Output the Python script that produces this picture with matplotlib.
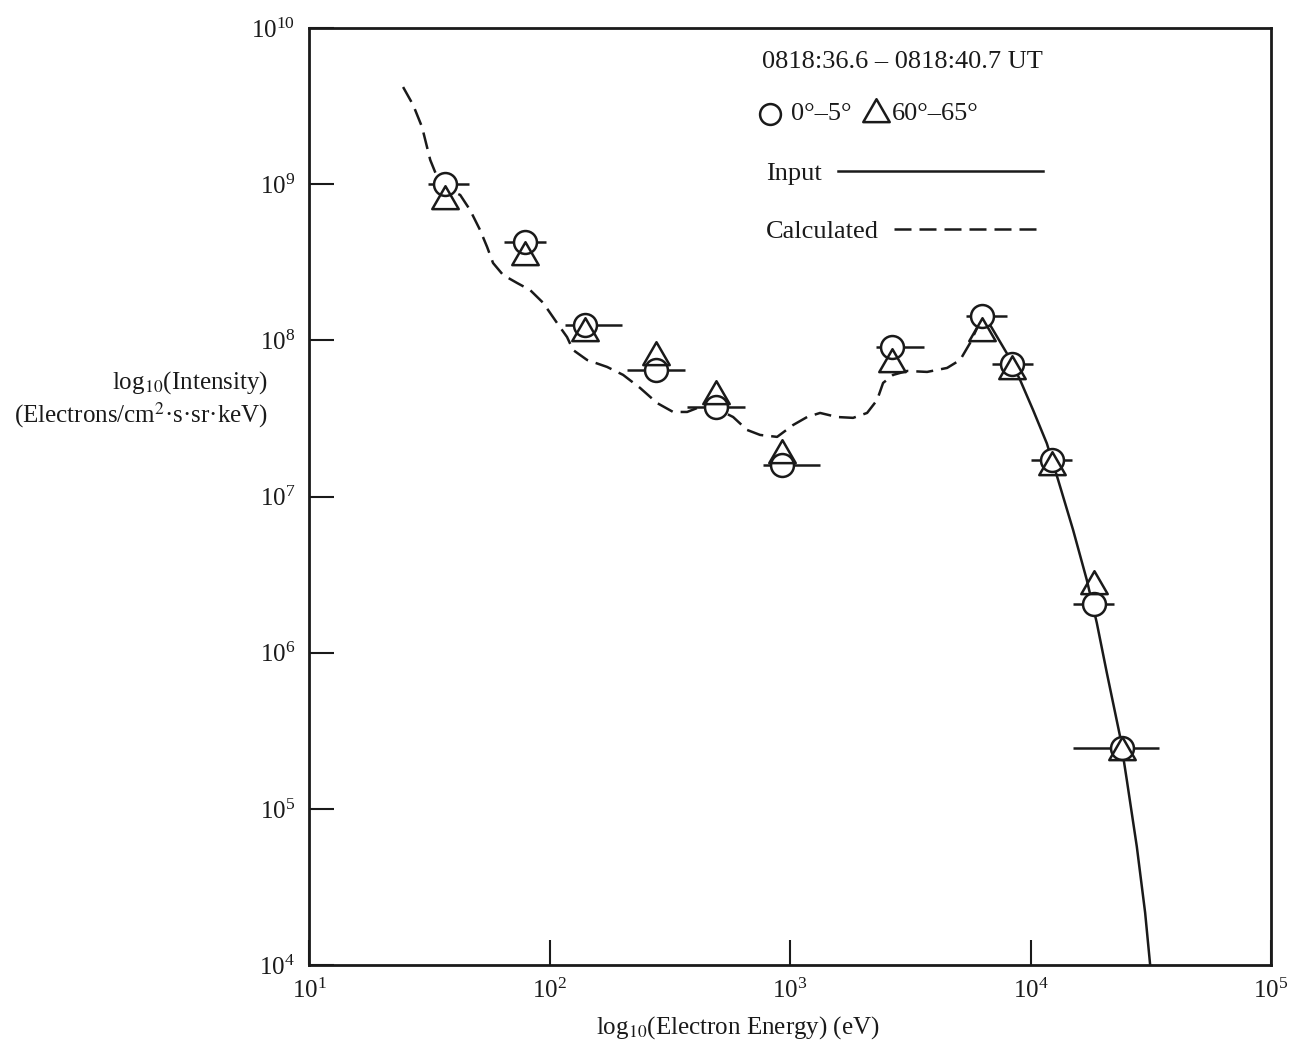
import numpy as np
import matplotlib
matplotlib.use("Agg")
import matplotlib.pyplot as plt
from matplotlib.path import Path

plt.rcParams['font.family'] = ['Liberation Serif', 'DejaVu Serif']
plt.rcParams['mathtext.fontset'] = 'stix'

# Channel energies (eV) and energy bin edges for the horizontal bars
energy = [36.8, 79.1, 140.5, 277.3, 492.5, 926, 2656, 6283, 8378, 12290, 18370, 24020]
energy_lo = [31.3, 64.7, 116, 210.6, 374, 770, 2278, 5393, 6898, 10050, 14980, 15070]
energy_hi = [46.2, 96.6, 199.5, 365.9, 650, 1332, 3607, 7962, 10210, 14830, 22310, 34120]

# Measured intensities, pitch angle 0-5 deg (circles) and 60-65 deg (triangles)
flux_0_5 = [1.01e9, 4.29e8, 1.26e8, 6.47e7, 3.77e7, 1.59e7, 9.12e7, 1.44e8, 7.06e7, 1.71e7, 2.04e6, 2.45e5]
flux_60_65 = [7.77e8, 3.43e8, 1.11e8, 7.87e7, 4.43e7, 1.85e7, 7.08e7, 1.11e8, 6.34e7, 1.55e7, 2.67e6, 2.32e5]

# Input spectrum (solid)
input_e = [6344, 6785, 7963, 9043, 10240, 11680, 13015, 15020, 17130, 18850, 20750, 23560,
           25120, 27640, 29940, 31410]
input_i = [1.39e8, 1.255e8, 8.27e7, 5.58e7, 3.58e7, 2.19e7, 1.277e7, 6.11e6, 2.92e6, 1.55e6,
           7.42e5, 2.90e5, 1.53e5, 5.74e4, 2.16e4, 1.0e4]

# Calculated spectrum (dashed)
calc_e = [24.6, 27.1, 29.5, 31.9, 33.4, 36.1, 42.5, 46.7, 51.4, 55.0, 58.2, 64.1, 73.3, 83.0, 94.0,
          107.5, 118.2, 125.2, 143.2, 173.4, 202.2, 237.8, 279.9, 326.3, 373.2, 422.6, 478.6, 579.6,
          662.5, 750.4, 883.1, 1029, 1177, 1333, 1568, 1828, 2090, 2300, 2436, 2681, 3066, 3713,
          4496, 5093, 5603, 5991, 6344]
calc_i = [4.19e9, 3.21e9, 2.32e9, 1.43e9, 1.20e9, 9.60e8, 8.53e8, 6.84e8, 5.09e8, 3.96e8, 3.13e8,
          2.62e8, 2.33e8, 2.10e8, 1.74e8, 1.29e8, 1.05e8, 8.68e7, 7.49e7, 6.76e7, 6.01e7, 4.96e7,
          3.97e7, 3.48e7, 3.48e7, 3.75e7, 3.75e7, 3.23e7, 2.67e7, 2.48e7, 2.41e7, 2.87e7, 3.23e7,
          3.43e7, 3.23e7, 3.19e7, 3.43e7, 4.15e7, 5.34e7, 6.01e7, 6.37e7, 6.28e7, 6.66e7, 7.49e7,
          9.62e7, 1.20e8, 1.39e8]

# equilateral triangle centred on its centroid
tri = Path([(-0.866, -0.5), (0.866, -0.5), (0, 1.0), (-0.866, -0.5)],
           [Path.MOVETO, Path.LINETO, Path.LINETO, Path.CLOSEPOLY])

lw = 1.8
ink = '#1a1a1a'
fig = plt.figure(figsize=(12.91, 10.46), dpi=100)
ax = fig.add_axes([0.2394, 0.0774, 0.7452, 0.8958])
ax.set_xscale('log')
ax.set_yscale('log')
ax.set_xlim(10, 1e5)
ax.set_ylim(1e4, 1e10)

ax.plot(input_e, input_i, color=ink, lw=lw, zorder=2)
ax.plot(calc_e, calc_i, color=ink, lw=lw, ls=(0, (6.8, 3.2)), zorder=2)
ax.hlines(flux_0_5, energy_lo, energy_hi, color=ink, lw=lw, zorder=3)
ax.plot(energy, flux_0_5, ls='none', marker='o', ms=16.5, mfc='white', mec=ink, mew=lw, zorder=4)
ax.plot(energy, flux_60_65, ls='none', marker=tri, ms=22, mfc='none', mec=ink, mew=lw, zorder=5)

# legend block drawn by hand
tk = dict(transform=ax.transAxes, fontsize=19, color=ink, va='center')
ax.text(0.4709, 0.9637, '0818:36.6 \u2013 0818:40.7 UT', **tk)
ax.plot([0.4792], [0.9082], transform=ax.transAxes, marker='o', ms=15, mfc='white', mec=ink, mew=lw, clip_on=False)
ax.text(0.501, 0.9082, '0\u00b0\u20135\u00b0', **tk)
ax.plot([0.5894], [0.9082], transform=ax.transAxes, marker=tri, ms=22, mfc='none', mec=ink, mew=lw, clip_on=False)
ax.text(0.606, 0.9082, '60\u00b0\u201365\u00b0', **tk)
ax.text(0.4751, 0.8442, 'Input', **tk)
ax.plot([0.5499, 0.7630], [0.8474, 0.8474], transform=ax.transAxes, color=ink, lw=lw)
ax.text(0.4751, 0.7823, 'Calculated', **tk)
ax.plot([0.6081, 0.7630], [0.7855, 0.7855], transform=ax.transAxes, color=ink, lw=lw, ls=(0, (6.8, 3.2)))

for s in ax.spines.values():
    s.set_linewidth(2.0)
    s.set_color(ink)
ax.minorticks_off()
ax.set_xticks([1e1, 1e2, 1e3, 1e4, 1e5])
ax.set_yticks([1e4, 1e5, 1e6, 1e7, 1e8, 1e9, 1e10])
ax.tick_params(which='major', direction='in', length=18, width=1.5, labelsize=18, colors=ink)
ax.tick_params(axis='y', pad=10)
ax.tick_params(axis='x', pad=10)

fig.text(738 / 1291, 1 - 1028 / 1046, 'log$_{10}$(Electron Energy) (eV)', ha='center', va='center', fontsize=18, color=ink)
fig.text(268 / 1291, 1 - 383 / 1046, 'log$_{10}$(Intensity)', ha='right', va='center', fontsize=18, color=ink)
fig.text(268 / 1291, 1 - 415 / 1046, '(Electrons/cm$^{2}$\u00b7s\u00b7sr\u00b7keV)', ha='right', va='center', fontsize=18, color=ink)

fig.savefig('out.png', dpi=100)
